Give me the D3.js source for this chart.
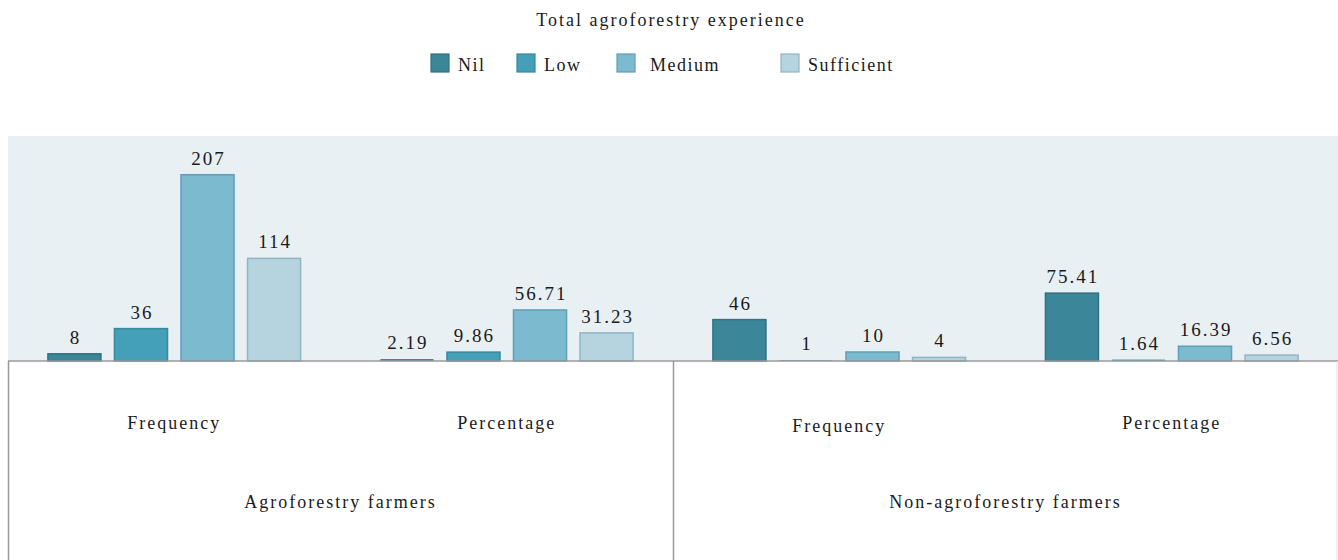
<!DOCTYPE html>
<html>
<head>
<meta charset="utf-8">
<script src="https://cdn.jsdelivr.net/npm/d3@7"></script>
<style>
  html, body { margin: 0; padding: 0; background: #ffffff; }
  svg { display: block; }
</style>
</head>
<body>
<svg id="chart" width="1338" height="560"></svg>
<script>
// ---- data ----
const title = "Total agroforestry experience";
const farmerGroups = ["Agroforestry farmers", "Non-agroforestry farmers"];
const measures = ["Frequency", "Percentage"];
const levels = ["Nil", "Low", "Medium", "Sufficient"];
const nilValues = [8, 2.19, 46, 75.41];
const lowValues = [36, 9.86, 1, 1.64];
const mediumValues = [207, 56.71, 10, 16.39];
const sufficientValues = [114, 31.23, 4, 6.56];

// ---- styles ----
const fills = ["#3b8699", "#44a0b9", "#7cbad0", "#b5d4df"];
const strokes = ["#2f7284", "#38889e", "#5f9fb6", "#8fb5c4"];
const textColor = "#1a1a1a";
const FONT = '"Liberation Serif"';

const W = 1338, H = 560;
const plotLeft = 8, plotRight = 1338, plotTop = 136, baseY = 361;

const svg = d3.select("#chart");

const columns = [];
farmerGroups.forEach((g, gi) => measures.forEach((m, mi) => columns.push({group: g, measure: m, idx: gi * measures.length + mi})));
const seriesValues = [nilValues, lowValues, mediumValues, sufficientValues];

const x0 = d3.scaleBand().domain(columns.map(c => c.idx)).range([plotLeft, plotRight]).padding(0);
const x1 = d3.scaleBand().domain(levels).range([0, x0.bandwidth()]).paddingInner(0.203).paddingOuter(0.6);
const y = d3.scaleLinear().domain([0, 250]).range([baseY, plotTop]);
const xg = d3.scaleBand().domain(farmerGroups).range([plotLeft, plotRight]).padding(0);

svg.append("rect")
  .attr("x", plotLeft).attr("y", plotTop)
  .attr("width", plotRight - plotLeft).attr("height", baseY - plotTop)
  .attr("fill", "#e9f0f4");

const colG = svg.selectAll("g.col").data(columns).enter().append("g")
  .attr("class", "col")
  .attr("transform", d => `translate(${x0(d.idx)},0)`);

const cellData = c => levels.map((l, li) => ({level: l, li, value: seriesValues[li][c.idx]}));

colG.selectAll("rect").data(cellData)
  .enter().append("rect")
  .attr("x", d => x1(d.level))
  .attr("y", d => y(d.value))
  .attr("width", x1.bandwidth())
  .attr("height", d => baseY - y(d.value))
  .attr("fill", d => fills[d.li])
  .attr("stroke", d => (baseY - y(d.value)) < 2 ? "none" : strokes[d.li])
  .attr("stroke-width", 1.5);

colG.selectAll("text.val").data(cellData)
  .enter().append("text")
  .attr("class", "val")
  .attr("x", d => x1(d.level) + x1.bandwidth() / 2 + 1)
  .attr("y", d => y(d.value) - 10)
  .attr("text-anchor", "middle")
  .style("font-family", FONT)
  .attr("font-size", 19)
  .attr("letter-spacing", "2px")
  .attr("fill", textColor)
  .text(d => String(d.value));

svg.append("line").attr("x1", plotLeft).attr("x2", plotRight).attr("y1", baseY).attr("y2", baseY)
  .attr("stroke", "#9a9a9a").attr("stroke-width", 1.5);
svg.selectAll("line.sep").data(farmerGroups).enter().append("line")
  .attr("class", "sep")
  .attr("x1", d => xg(d) + 0.5).attr("x2", d => xg(d) + 0.5)
  .attr("y1", baseY).attr("y2", H)
  .attr("stroke", "#9a9a9a").attr("stroke-width", 1.5);
svg.append("line").attr("x1", plotRight - 1).attr("x2", plotRight - 1).attr("y1", baseY).attr("y2", H)
  .attr("stroke", "#e4e4e4").attr("stroke-width", 1);

svg.selectAll("text.measure").data(columns).enter().append("text")
  .attr("class", "measure")
  .attr("x", d => x0(d.idx) + x0.bandwidth() / 2)
  .attr("y", (d, i) => 429 + (i === 2 ? 3 : 0))
  .attr("text-anchor", "middle")
  .style("font-family", FONT)
  .attr("font-size", 18)
  .attr("letter-spacing", "2px")
  .attr("fill", textColor)
  .text(d => d.measure);

svg.selectAll("text.group").data(farmerGroups).enter().append("text")
  .attr("class", "group")
  .attr("x", d => xg(d) + xg.bandwidth() / 2)
  .attr("y", 508)
  .attr("text-anchor", "middle")
  .style("font-family", FONT)
  .attr("font-size", 18)
  .attr("letter-spacing", "2px")
  .attr("fill", textColor)
  .text(d => d);

svg.append("text")
  .attr("x", 671).attr("y", 26)
  .attr("text-anchor", "middle")
  .style("font-family", FONT)
  .attr("font-size", 18)
  .attr("letter-spacing", "2px")
  .attr("fill", textColor)
  .text(title);

const legendX = [431, 517, 617, 781];
const leg = svg.selectAll("g.leg").data(levels).enter().append("g")
  .attr("class", "leg")
  .attr("transform", (d, i) => `translate(${legendX[i]},54)`);
leg.append("rect").attr("width", 18).attr("height", 18)
  .attr("fill", (d, i) => fills[i]).attr("stroke", (d, i) => strokes[i]).attr("stroke-width", 1.2);
leg.append("text").attr("x", (d, i) => i === 2 ? 33 : 27).attr("y", 17)
  .style("font-family", FONT)
  .attr("font-size", 18).attr("letter-spacing", "1.5px")
  .attr("fill", textColor)
  .text(d => d);
</script>
</body>
</html>
